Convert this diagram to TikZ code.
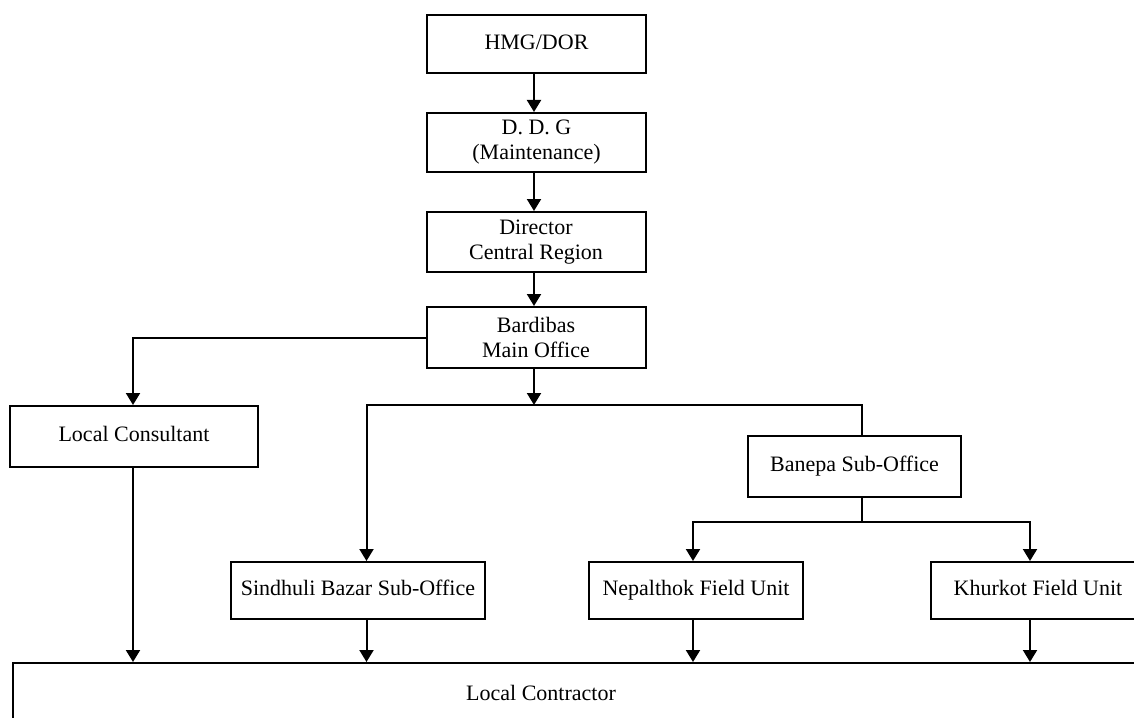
\documentclass[tikz,border=0pt]{standalone}
\usepackage{fontspec}
\setmainfont{Liberation Serif}
\usetikzlibrary{arrows.meta}
\begin{document}
\begin{tikzpicture}[x=0.5pt,y=-0.5pt,
  font=\fontsize{11}{12.5}\selectfont,
  orgbox/.style={draw, line width=1pt, rectangle, inner sep=0pt, align=center},
  oneline/.style={text height=7.5pt, text depth=2.2pt},
  link/.style={line width=1pt},
  arr/.style={line width=1pt, -{Triangle[width=7pt,length=6pt]}}]
\useasboundingbox (0,0) rectangle (1134,717);
\clip (0,0) rectangle (1134,717);

% chain of command
\node[orgbox, oneline, minimum width=109.5pt, minimum height=29pt] (hmg) at (536.5,44) {HMG/DOR};
\node[orgbox, minimum width=109.5pt, minimum height=29.5pt] (ddg) at (536.5,142.5) {D. D. G\\(Maintenance)};
\node[orgbox, minimum width=109.5pt, minimum height=30pt] (dir) at (536,242) {Director\\Central Region};
\node[orgbox, minimum width=109.5pt, minimum height=30.5pt] (bard) at (536,337.5) {Bardibas\\Main Office};

% second level
\node[orgbox, oneline, minimum width=124pt, minimum height=30.5pt] (cons) at (134,436.5) {Local Consultant};
\node[orgbox, oneline, minimum width=106.5pt, minimum height=30.5pt] (banepa) at (854.5,466.5) {Banepa Sub-Office};

% field offices
\node[orgbox, oneline, minimum width=127pt, minimum height=28.5pt] (sind) at (358,590.5) {Sindhuli Bazar Sub-Office};
\node[orgbox, oneline, minimum width=107pt, minimum height=28.5pt] (nepal) at (696,590.5) {Nepalthok Field Unit};
\node[orgbox, oneline, minimum width=107pt, minimum height=28.5pt] (khur) at (1038,590.5) {Khurkot Field Unit};

% contractor band running off the page
\node[draw, line width=1pt, rectangle, inner sep=0pt, anchor=north west,
      minimum width=650pt, minimum height=60pt] (contr) at (12,662) {};
\node[oneline] (contrtext) at (541,695) {Local Contractor};

% connector columns and junction rows
\coordinate (m) at (534,0);
\coordinate (c1) at (133,0);
\coordinate (s1) at (366.5,0);
\coordinate (b1) at (862,0);
\coordinate (n1) at (693,0);
\coordinate (k1) at (1030,0);
\coordinate (j1) at (0,405);
\coordinate (j2) at (0,522);

\draw[arr] (hmg.south -| m) -- (ddg.north -| m);
\draw[arr] (ddg.south -| m) -- (dir.north -| m);
\draw[arr] (dir.south -| m) -- (bard.north -| m);

\draw[arr] (bard.west) -| (cons.north -| c1);
\draw[arr] (bard.south -| m) -- (m |- j1);
\draw[arr] (banepa.north -| b1) -- (b1 |- j1) -- (s1 |- j1) -- (sind.north -| s1);

\draw[link] (banepa.south -| b1) -- (b1 |- j2);
\draw[arr] (b1 |- j2) -| (nepal.north -| n1);
\draw[arr] (b1 |- j2) -| (khur.north -| k1);

\draw[arr] (cons.south -| c1) -- (contr.north -| c1);
\draw[arr] (sind.south -| s1) -- (contr.north -| s1);
\draw[arr] (nepal.south -| n1) -- (contr.north -| n1);
\draw[arr] (khur.south -| k1) -- (contr.north -| k1);
\end{tikzpicture}
\end{document}
